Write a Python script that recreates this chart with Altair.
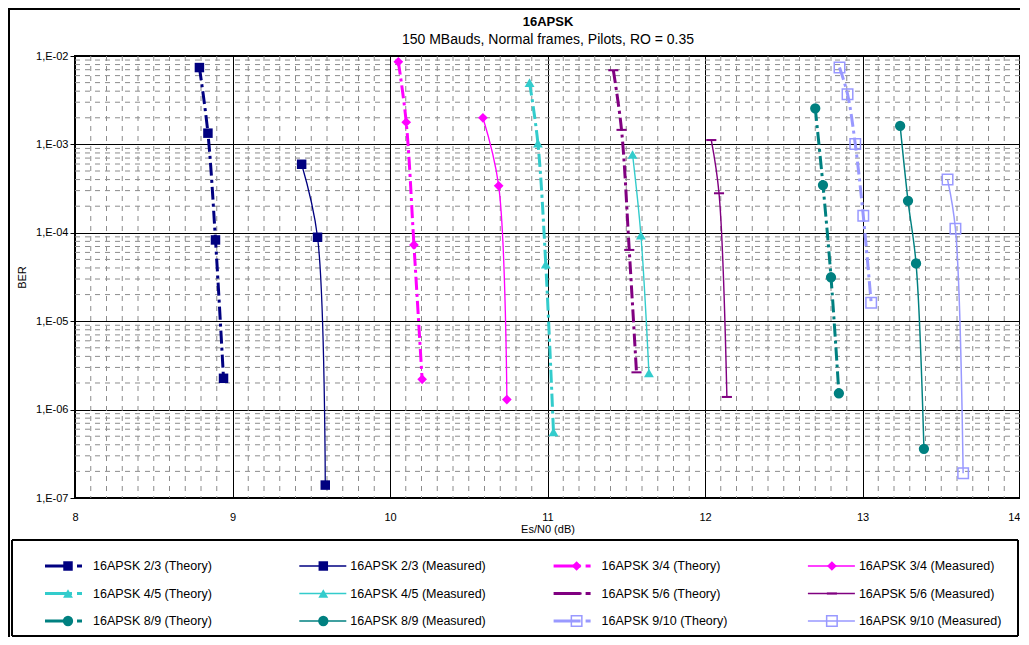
import altair as alt
import pandas as pd

# ---------------- data ----------------
codes = ["2/3", "3/4", "4/5", "5/6", "8/9", "9/10"]
colors = ["#000080", "#FF00FF", "#33CCCC", "#800080", "#008080", "#9999FF"]

t23_x = [8.79, 8.844, 8.892, 8.943]
t23_y = [7.4e-3, 1.34e-3, 8.3e-5, 2.26e-6]
m23_x = [9.439, 9.540, 9.589]
m23_y = [5.96e-4, 8.9e-5, 1.4e-7]

t34_x = [10.053, 10.103, 10.152, 10.204]
t34_y = [8.6e-3, 1.78e-3, 7.3e-5, 2.2e-6]
m34_x = [10.59, 10.69, 10.742]
m34_y = [2.0e-3, 3.4e-4, 1.3e-6]

t45_x = [10.886, 10.939, 10.989, 11.038]
t45_y = [5.0e-3, 1.03e-3, 4.4e-5, 5.6e-7]
m45_x = [11.54, 11.593, 11.644]
m45_y = [7.7e-4, 9.4e-5, 2.6e-6]

t56_x = [11.418, 11.47, 11.519, 11.565]
t56_y = [6.9e-3, 1.46e-3, 6.4e-5, 2.64e-6]
m56_x = [12.04, 12.089, 12.139]
m56_y = [1.12e-3, 2.8e-4, 1.39e-6]

t89_x = [12.70, 12.749, 12.80, 12.85]
t89_y = [2.56e-3, 3.47e-4, 3.14e-5, 1.53e-6]
m89_x = [13.239, 13.289, 13.34, 13.39]
m89_y = [1.62e-3, 2.3e-4, 4.5e-5, 3.6e-7]

t910_x = [12.854, 12.905, 12.954, 13.005, 13.055]
t910_y = [7.4e-3, 3.7e-3, 1.01e-3, 1.56e-4, 1.62e-5]
m910_x = [13.54, 13.59, 13.639]
m910_y = [4.0e-4, 1.11e-4, 1.9e-7]

x_ticks = [8, 9, 10, 11, 12, 13, 14]
y_ticks = [1e-7, 1e-6, 1e-5, 1e-4, 1e-3, 1e-2]

title_text = "16APSK"
subtitle_text = "150 MBauds, Normal frames, Pilots, RO = 0.35"

series_list = [
    ("16APSK 2/3 (Theory)", "2/3", "Theory", t23_x, t23_y),
    ("16APSK 2/3 (Measured)", "2/3", "Measured", m23_x, m23_y),
    ("16APSK 3/4 (Theory)", "3/4", "Theory", t34_x, t34_y),
    ("16APSK 3/4 (Measured)", "3/4", "Measured", m34_x, m34_y),
    ("16APSK 4/5 (Theory)", "4/5", "Theory", t45_x, t45_y),
    ("16APSK 4/5 (Measured)", "4/5", "Measured", m45_x, m45_y),
    ("16APSK 5/6 (Theory)", "5/6", "Theory", t56_x, t56_y),
    ("16APSK 5/6 (Measured)", "5/6", "Measured", m56_x, m56_y),
    ("16APSK 8/9 (Theory)", "8/9", "Theory", t89_x, t89_y),
    ("16APSK 8/9 (Measured)", "8/9", "Measured", m89_x, m89_y),
    ("16APSK 9/10 (Theory)", "9/10", "Theory", t910_x, t910_y),
    ("16APSK 9/10 (Measured)", "9/10", "Measured", m910_x, m910_y),
]

# ---------------- tables ----------------
rows = []
for name, code, kind, xs, ys in series_list:
    for i, (xv, yv) in enumerate(zip(xs, ys)):
        rows.append(dict(series=name, code=code, kind=kind, i=i, esn0=xv, ber=yv))
df = pd.DataFrame(rows)

leg = pd.DataFrame([
    dict(series=s[0], code=s[1], kind=s[2], col=k % 4, row=k // 4)
    for k, s in enumerate(series_list)
])

minor_x = pd.DataFrame({"esn0": [8 + k / 10 for k in range(1, 60) if k % 10 != 0]})
minor_y = pd.DataFrame({"ber": [m * 10.0 ** e for e in range(-7, -2) for m in range(2, 10)]})
titles = pd.DataFrame({"t": [title_text], "s": [subtitle_text]})

# ---------------- styles ----------------
FONT = "Liberation Sans"
dash_path = "M-1,-0.2H1V0.2H-1Z"
shapes = ["square", "diamond", "triangle-up", dash_path, "circle", "square"]
sizes = [90, 110, 100, 100, 80, 100]
meas_widths = [1.3, 1.5, 1.5, 1.5, 1.5, 3.0]

color_enc = alt.Color("code:N", scale=alt.Scale(domain=codes, range=colors), legend=None)
shape_enc = alt.Shape("code:N", scale=alt.Scale(domain=codes, range=shapes), legend=None)
size_enc = alt.Size("code:N", scale=alt.Scale(domain=codes, range=sizes), legend=None)
sw_enc = alt.StrokeWidth("code:N", scale=alt.Scale(domain=codes, range=meas_widths), legend=None)

X = alt.X(
    "esn0:Q",
    scale=alt.Scale(domain=[8, 14], nice=False, zero=False),
    axis=alt.Axis(
        values=x_ticks, format="d", grid=True, gridColor="black", gridWidth=1,
        gridOpacity=1, domain=False, ticks=False, labelPadding=13,
        labelFont=FONT, labelFontSize=11, labelColor="black",
        labelAlign=alt.condition("datum.value == 14", alt.value("right"), alt.value("center")),
        title="Es/N0 (dB)", titleFont=FONT, titleFontSize=11,
        titleFontWeight="normal", titleColor="black", titlePadding=1,
        labelFlush=False,
    ),
)
Y = alt.Y(
    "ber:Q",
    scale=alt.Scale(type="log", domain=[1e-7, 1e-2], nice=False),
    axis=alt.Axis(
        values=y_ticks, grid=True, gridColor="black", gridWidth=1, gridOpacity=1,
        domain=False, ticks=True, tickColor="black", tickSize=5, labelPadding=2,
        labelExpr="'1,E-0' + format(-round(log(datum.value)/LN10), 'd')",
        labelFont=FONT, labelFontSize=11, labelColor="black",
        title="BER", titleFont=FONT, titleFontSize=11, titleFontWeight="normal",
        titleColor="black", titlePadding=8, labelFlush=False,
    ),
)

grid_v = alt.Chart(minor_x).mark_rule(color="#8c8c8c", strokeWidth=1, strokeDash=[5, 5]).encode(x=X)
grid_h = alt.Chart(minor_y).mark_rule(color="#8c8c8c", strokeWidth=1, strokeDash=[5, 5]).encode(y=Y)

base = alt.Chart(df)
theory_lines = base.transform_filter(alt.datum.kind == "Theory").mark_line(
    strokeWidth=3, strokeDash=[13, 4, 3, 4], interpolate="catmull-rom"
).encode(x=X, y=Y, color=color_enc, detail="series:N", order="i:Q")
meas_lines = base.transform_filter(alt.datum.kind == "Measured").mark_line(
    interpolate="catmull-rom"
).encode(x=X, y=Y, color=color_enc, strokeWidth=sw_enc, detail="series:N", order="i:Q")

filled_pts = base.transform_filter(alt.datum.code != "9/10").mark_point(
    filled=True, opacity=1
).encode(x=X, y=Y, color=color_enc, shape=shape_enc, size=size_enc)
open_pts = base.transform_filter(alt.datum.code == "9/10").mark_point(
    filled=False, opacity=1, strokeWidth=1.5
).encode(x=X, y=Y, color=color_enc, shape=shape_enc, size=size_enc)

main = alt.layer(grid_v, grid_h, theory_lines, meas_lines, filled_pts, open_pts)

# ---------------- manual legend (own layout scales) ----------------
COLW = 254.3
LX = alt.Scale(domain=[0, 1017], range=[-30, 987])
LY = alt.Scale(domain=[0, 2], range=[510, 565])
lbase = alt.Chart(leg).transform_calculate(
    x0=f"datum.col * {COLW}",
    xt_end=f"datum.col * {COLW} + 37",
    xm_end=f"datum.col * {COLW} + 47",
    xmk=f"datum.col * {COLW} + (datum.kind == 'Theory' ? 23 : 24)",
    xtx=f"datum.col * {COLW} + (datum.kind == 'Theory' ? 48 : 51)",
)
ly = alt.Y("row:Q", scale=LY, axis=None)

leg_t_line = lbase.transform_filter(alt.datum.kind == "Theory").mark_rule(
    strokeWidth=3, strokeDash=[27, 5, 5, 60]
).encode(x=alt.X("x0:Q", scale=LX, axis=None), x2="xt_end:Q", y=ly, color=color_enc)
leg_m_line = lbase.transform_filter(alt.datum.kind == "Measured").mark_rule().encode(
    x=alt.X("x0:Q", scale=LX, axis=None), x2="xm_end:Q", y=ly, color=color_enc, strokeWidth=sw_enc
)
leg_fpts = lbase.transform_filter(alt.datum.code != "9/10").mark_point(filled=True, opacity=1).encode(
    x=alt.X("xmk:Q", scale=LX, axis=None), y=ly, color=color_enc, shape=shape_enc, size=size_enc
)
leg_opts = lbase.transform_filter(alt.datum.code == "9/10").mark_point(
    filled=False, opacity=1, strokeWidth=1.5
).encode(x=alt.X("xmk:Q", scale=LX, axis=None), y=ly, color=color_enc, shape=shape_enc, size=size_enc)
leg_text = lbase.mark_text(align="left", baseline="middle", font=FONT, fontSize=12.5, color="black").encode(
    x=alt.X("xtx:Q", scale=LX, axis=None), y=ly, text="series:N"
)
leg_box = alt.Chart(leg).mark_rect(fillOpacity=0, stroke="black", strokeWidth=1).encode(
    x=alt.value(-63), x2=alt.value(943), y=alt.value(484), y2=alt.value(580)
)
frame_left = alt.Chart(leg).mark_rule(color="black", strokeWidth=2).encode(
    x=alt.value(-66), y=alt.value(-48), y2=alt.value(700)
)
frame_top = alt.Chart(leg).mark_rule(color="black", strokeWidth=2).encode(
    y=alt.value(-47), x=alt.value(-67), x2=alt.value(1100)
)
title_mark = alt.Chart(titles).mark_text(
    font=FONT, fontSize=13, fontWeight="bold", color="black", align="center", baseline="middle"
).encode(x=alt.value(473), y=alt.value(-34), text="t:N")
subtitle_mark = alt.Chart(titles).mark_text(
    font=FONT, fontSize=14, color="black", align="center", baseline="middle"
).encode(x=alt.value(473), y=alt.value(-16), text="s:N")

legend = alt.layer(leg_box, leg_t_line, leg_m_line, leg_fpts, leg_opts, leg_text,
                   frame_left, frame_top, title_mark, subtitle_mark)

chart = alt.layer(main, legend).resolve_scale(x="independent", y="independent").properties(
    width=945,
    height=442,
    autosize=alt.AutoSizeParams(type="none"),
    padding={"left": 67, "top": 48, "right": 0, "bottom": 139},
    background="white",
).configure_view(stroke="black", strokeWidth=2)

chart.save("out.html", embed_options={"renderer": "svg", "actions": False})
